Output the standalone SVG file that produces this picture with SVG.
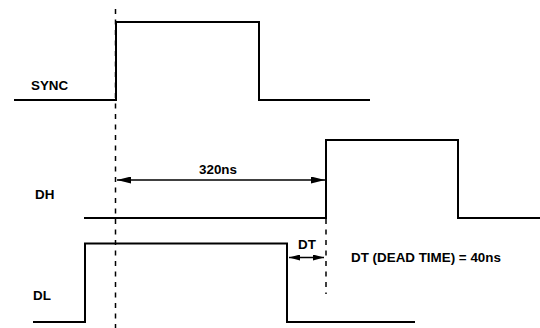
<svg xmlns="http://www.w3.org/2000/svg" width="540" height="328" viewBox="0 0 540 328">
<style>
.w{fill:none;stroke:#000;stroke-width:2}
.d{fill:none;stroke:#000;stroke-width:1.5;stroke-dasharray:5 5.5}
.a{fill:none;stroke:#000;stroke-width:1.5}
text{font-family:"Liberation Sans",Arial,sans-serif;font-weight:bold;font-size:13.4px;fill:#000}
</style>
<defs>
<marker id="ah" viewBox="0 0 14 7" refX="14" refY="3.5" markerWidth="14" markerHeight="7" markerUnits="userSpaceOnUse" orient="auto-start-reverse">
<path d="M0,0 L14,3.5 L0,7 z" fill="#000"/>
</marker>
<marker id="ahs" viewBox="0 0 11 6" refX="11" refY="3" markerWidth="11" markerHeight="6" markerUnits="userSpaceOnUse" orient="auto-start-reverse">
<path d="M0,0 L11,3 L0,6 z" fill="#000"/>
</marker>
</defs>
<g id="sync">
<path class="w" d="M14,100 H116 V22 H259 V100 H370"/>
<text x="31" y="90">SYNC</text>
</g>
<g id="dh">
<path class="w" d="M84,218 H326 V140 H458 V218 H540"/>
<text x="35" y="199">DH</text>
</g>
<g id="dl">
<path class="w" d="M33,322 H85 V243.5 H287 V322 H415"/>
<text x="33" y="300">DL</text>
</g>
<g id="connectors">
<line class="d" x1="115.5" y1="9" x2="115.5" y2="328"/>
<line class="d" x1="326" y1="219" x2="326" y2="294"/>
<line class="a" x1="117" y1="180" x2="325" y2="180" marker-start="url(#ah)" marker-end="url(#ah)"/>
<line class="a" x1="289" y1="257.5" x2="324" y2="257.5" marker-start="url(#ahs)" marker-end="url(#ahs)"/>
</g>
<g id="labels">
<text x="218" y="174" text-anchor="middle">320ns</text>
<text x="307" y="249" text-anchor="middle">DT</text>
<text x="351" y="262">DT (DEAD TIME) = 40ns</text>
</g>
</svg>
